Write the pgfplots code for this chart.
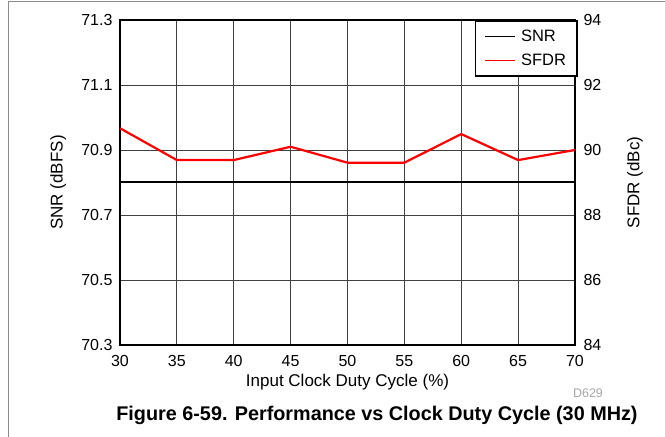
\documentclass[border=0pt]{standalone}
\usepackage{pgfplots}
\pgfplotsset{compat=1.18}
\usepackage{fontspec}
\setmainfont{Liberation Sans}

% SFDR versus input clock duty cycle
\pgfplotstableread{
duty sfdr
30 90.67
35 89.69
40 89.69
45 90.10
50 89.61
55 89.61
60 90.49
65 89.69
70 90.00
}\sfdrdata

% SNR versus input clock duty cycle
\pgfplotstableread{
duty snr
30 70.80
35 70.80
40 70.80
45 70.80
50 70.80
55 70.80
60 70.80
65 70.80
70 70.80
}\snrdata

\begin{document}
\begin{tikzpicture}[x=1pt,y=1pt]
\useasboundingbox (0,0) rectangle (665,437);
\draw[black!45, line width=1pt] (8,0) -- (8,435.5) -- (665,435.5);

\pgfplotsset{
  every axis/.append style={
    scale only axis, width=455pt, height=325pt,
    at={(120pt,92pt)}, anchor=south west,
    xmin=30, xmax=70,
    xtick={30,35,...,70},
    tick label style={font=\fontsize{16}{18}\selectfont},
    /pgf/number format/assume math mode=true,
    major tick length=0pt, minor tick length=0pt,
    axis line style={line width=2pt},
  },
}

\begin{axis}[
  ymin=70.3, ymax=71.3,
  ytick={70.3,70.5,70.7,70.9,71.1,71.3},
  yticklabel style={xshift=-4pt, /pgf/number format/.cd, fixed, fixed zerofill, precision=1},
  xticklabel style={yshift=-7pt},
  grid=major,
  grid style={line width=0.8pt, black!75},
  xlabel={Input Clock Duty Cycle (\%)},
  ylabel={SNR (dBFS)},
  every axis x label/.style={at={(axis description cs:0.5,-0.113)}, anchor=center,
    font=\fontsize{17}{19}\selectfont},
  every axis y label/.style={at={(axis description cs:-0.136,0.5)}, rotate=90, anchor=center,
    font=\fontsize{17}{19}\selectfont},
]
\addplot[black, line width=2pt] table[x=duty, y=snr] {\snrdata};
\end{axis}

\begin{axis}[
  axis y line*=right, axis x line=none,
  ymin=84, ymax=94,
  ytick={84,86,88,90,92,94},
  yticklabel style={xshift=5pt},
  ylabel={SFDR (dBc)},
  every axis y label/.style={at={(axis description cs:1.132,0.5)}, rotate=90, anchor=center,
    font=\fontsize{17}{19}\selectfont},
  legend style={at={(1.006,1)}, anchor=north east, draw=black, line width=1.6pt,
    font=\fontsize{16.5}{18}\selectfont, cells={anchor=west},
    inner xsep=9pt, inner ysep=7pt, row sep=7pt},
  legend image code/.code={\draw[#1] (0pt,0pt) -- (30pt,0pt); \path (33pt,0pt);},
]
\addlegendimage{black, line width=1.6pt}
\addlegendentry{SNR}
\addlegendimage{red, line width=1.6pt}
\addlegendentry{SFDR}
\addplot[red, line width=2.2pt, forget plot] table[x=duty, y=sfdr] {\sfdrdata};
\end{axis}

\node[text=black!35, font=\fontsize{12.5}{14}\selectfont] at (588,44) {D629};
\node[font=\fontsize{19.8}{22}\selectfont\bfseries] at (377,22) {Figure 6-59. Performance vs Clock Duty Cycle (30 MHz)};
\end{tikzpicture}
\end{document}
